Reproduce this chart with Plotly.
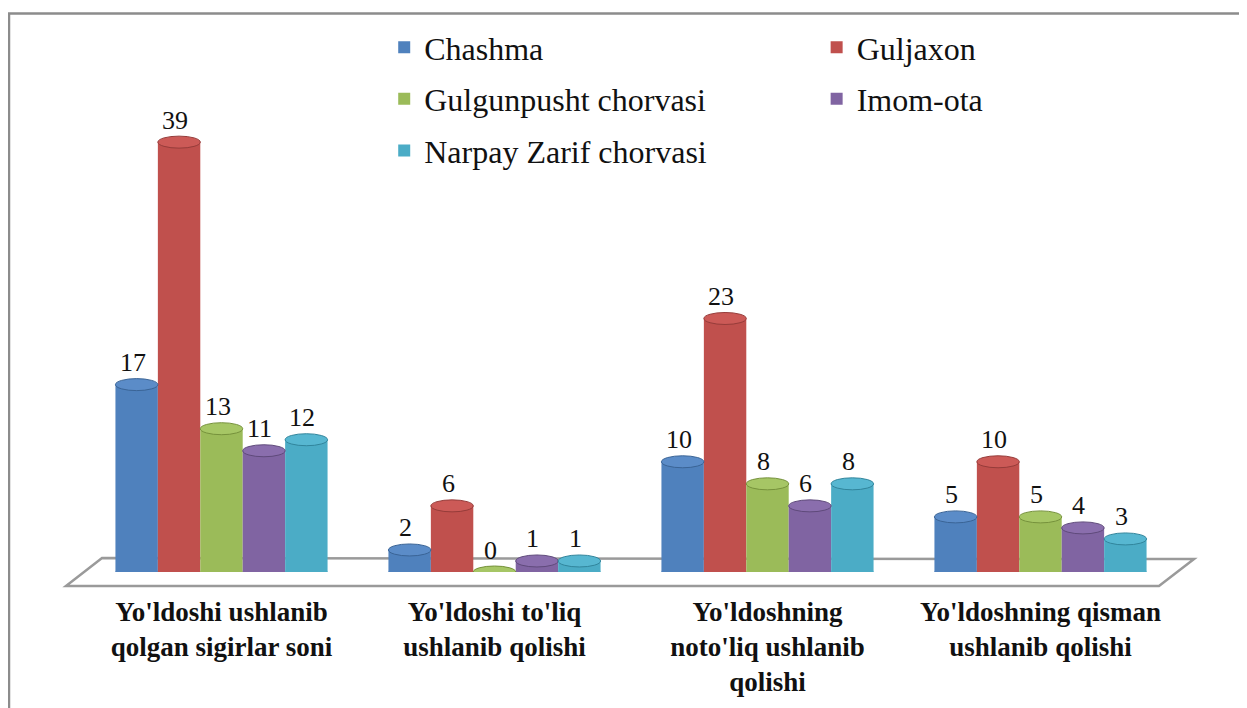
import plotly.graph_objects as go

categories = [
    "Yo'ldoshi ushlanib<br>qolgan sigirlar soni",
    "Yo'ldoshi to'liq<br>ushlanib qolishi",
    "Yo'ldoshning<br>noto'liq ushlanib<br>qolishi",
    "Yo'ldoshning qisman<br>ushlanib qolishi",
]
series_names = ["Chashma", "Guljaxon", "Gulgunpusht chorvasi", "Imom-ota", "Narpay Zarif chorvasi"]
chashma = [17, 2, 10, 5]
guljaxon = [39, 6, 23, 10]
gulgunpusht = [13, 0, 8, 5]
imom_ota = [11, 1, 6, 4]
narpay = [12, 1, 8, 3]
series_values = [chashma, guljaxon, gulgunpusht, imom_ota, narpay]

colors = ["#4F81BD", "#C0504D", "#9BBB59", "#8064A2", "#4BACC6"]
cap_colors = ["#5B8CC8", "#CC5A57", "#A6C665", "#8A6EAD", "#57B7D1"]
edge_colors = ["#3A6496", "#963C3A", "#76923C", "#5F4A7B", "#31859C"]
legend_ids = ["legend", "legend2", "legend", "legend2", "legend"]

SERIF = "Liberation Serif, Times New Roman, serif"
BARGAP = 0.223
n = len(series_names)
bw = (1 - BARGAP) / n
idx = list(range(len(categories)))

fig = go.Figure()
shapes = []
annotations = []

# outer border and floor (decorations, paper coordinates)
shapes.append(dict(type="rect", xref="paper", yref="paper", x0=-0.0696, x1=1.0586,
                   y0=-0.30, y1=1.126, line=dict(color="#8C8C8C", width=2.5),
                   fillcolor="rgba(0,0,0,0)", layer="below"))
shapes.append(dict(type="path", xref="paper", yref="paper",
                   path="M -0.0174,-0.028 L 0.0156,0.028 L 1.0156,0.026 L 0.9835,-0.028 Z",
                   line=dict(color="#9A9A9A", width=2.5), fillcolor="white", layer="below"))

for k, (name, vals) in enumerate(zip(series_names, series_values)):
    fig.add_trace(go.Bar(
        x=idx, y=vals, name=name, marker=dict(color=colors[k], line=dict(width=0)),
        legend=legend_ids[k], legendgroup=name, hoverinfo="skip",
    ))
    off = -(1 - BARGAP) / 2 + (k + 0.5) * bw
    for i, v in zip(idx, vals):
        xc = i + off
        # bottom ellipse (base of cylinder)
        shapes.append(dict(type="circle", xref="x", yref="y", xsizemode="scaled",
                           ysizemode="pixel", yanchor=0, x0=xc - bw / 2, x1=xc + bw / 2,
                           y0=-6, y1=6, fillcolor=colors[k], line=dict(width=0),
                           layer="below"))
        # top cap
        shapes.append(dict(type="circle", xref="x", yref="y", xsizemode="scaled",
                           ysizemode="pixel", yanchor=v, x0=xc - bw / 2, x1=xc + bw / 2,
                           y0=-6, y1=6, fillcolor=cap_colors[k],
                           line=dict(width=1, color=edge_colors[k]), layer="above"))
        annotations.append(dict(x=xc, y=v, xref="x", yref="y", text=str(v), showarrow=False,
                                yshift=22, xshift=-4,
                                font=dict(family=SERIF, size=26, color="#111111")))

fig.update_layout(
    width=1247, height=708,
    margin=dict(l=77, r=78, t=64, b=144),
    paper_bgcolor="white", plot_bgcolor="white",
    barmode="group", bargap=BARGAP, bargroupgap=0,
    shapes=shapes, annotations=annotations,
    showlegend=True,
    legend=dict(x=0.274, y=1.113, xanchor="left", yanchor="top", traceorder="grouped",
                tracegroupgap=7, bgcolor="rgba(0,0,0,0)",
                font=dict(family=SERIF, size=32, color="#111111")),
    legend2=dict(x=0.670, y=1.113, xanchor="left", yanchor="top", traceorder="grouped",
                 tracegroupgap=7, bgcolor="rgba(0,0,0,0)",
                 font=dict(family=SERIF, size=32, color="#111111")),
    xaxis=dict(tickmode="array", tickvals=idx,
               ticktext=["<b>" + c.replace("<br>", "</b><br><b>") + "</b>" for c in categories],
               range=[-0.5, 3.5],
               showgrid=False, zeroline=False, showline=False, ticks="",
               ticklabelstandoff=21,
               tickfont=dict(family=SERIF, size=27, color="#111111"),
               tickangle=0),
    yaxis=dict(range=[0, 45], showgrid=False, zeroline=False, showline=False,
               showticklabels=False, ticks=""),
)

fig.write_html("out.html")
